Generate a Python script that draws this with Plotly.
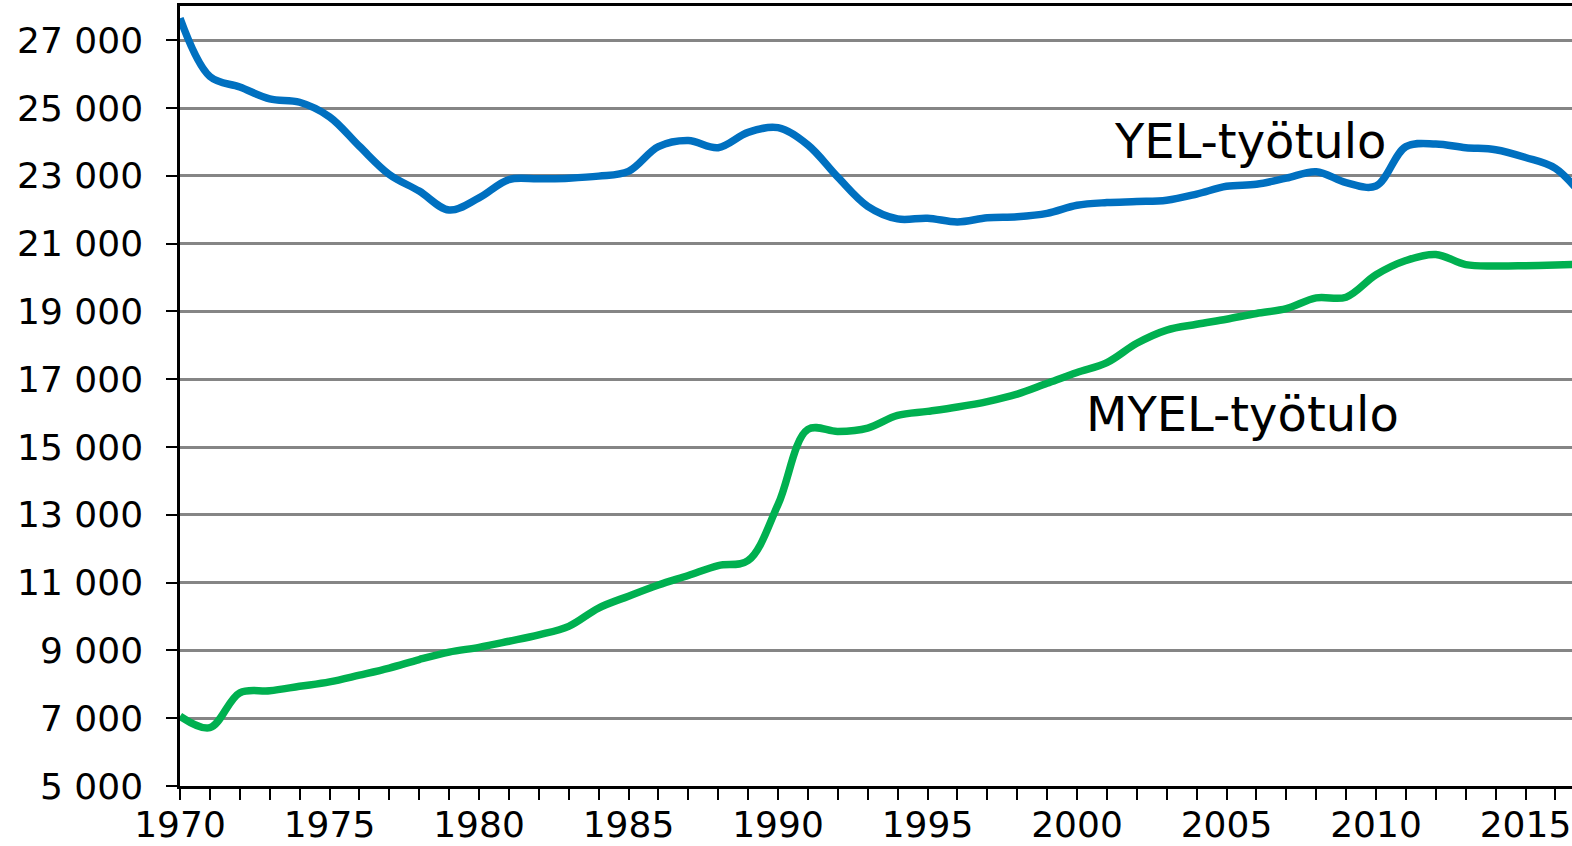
import plotly.graph_objects as go

years = list(range(1970, 2018))

yel = [27650, 25930, 25620, 25270, 25170, 24740, 23870, 23040, 22550, 21990,
       22350, 22890, 22910, 22930, 22990, 23130, 23860, 24040, 23830, 24280,
       24420, 23910, 22960, 22100, 21730, 21750, 21640, 21760, 21790, 21890,
       22130, 22210, 22240, 22280, 22460, 22690, 22750, 22930, 23120, 22800,
       22700, 23860, 23940, 23830, 23770, 23540, 23220, 22300]

myel = [7060, 6720, 7750, 7810, 7940, 8070, 8270, 8480, 8730, 8950,
        9090, 9270, 9460, 9710, 10250, 10600, 10930, 11210, 11500, 11650,
        13300, 15520, 15460, 15560, 15930, 16050, 16180, 16340, 16560, 16880,
        17200, 17490, 18060, 18450, 18620, 18770, 18940, 19080, 19400, 19420,
        20080, 20500, 20680, 20380, 20340, 20350, 20370, 20400]

y_ticks = [5000, 7000, 9000, 11000, 13000, 15000, 17000, 19000, 21000, 23000, 25000, 27000]
y_labels = ["5 000", "7 000", "9 000", "11 000", "13 000", "15 000", "17 000",
            "19 000", "21 000", "23 000", "25 000", "27 000"]
x_ticks = [1970, 1975, 1980, 1985, 1990, 1995, 2000, 2005, 2010, 2015]

FONT = "DejaVu Sans, Verdana, sans-serif"

fig = go.Figure()
fig.add_trace(go.Scatter(x=years, y=yel, mode="lines", name="YEL-työtulo",
                         line=dict(color="#0070C0", width=7.5, shape="spline", smoothing=1.0)))
fig.add_trace(go.Scatter(x=years, y=myel, mode="lines", name="MYEL-työtulo",
                         line=dict(color="#00B050", width=7.5, shape="spline", smoothing=1.0)))

fig.add_annotation(x=2005.79, y=24020, text="YEL-työtulo", showarrow=False,
                   font=dict(family=FONT, size=48, color="black"),
                   xanchor="center", yanchor="middle")
fig.add_annotation(x=2005.55, y=15970, text="MYEL-työtulo", showarrow=False,
                   font=dict(family=FONT, size=48, color="black"),
                   xanchor="center", yanchor="middle")

fig.update_layout(
    width=1572, height=846,
    margin=dict(l=180, r=0, t=6, b=60, pad=0),
    paper_bgcolor="white", plot_bgcolor="white",
    showlegend=False,
    font=dict(family=FONT, size=36, color="black"),
)
fig.update_xaxes(
    range=[1970, 2016.555], tickvals=x_ticks, ticktext=[str(v) for v in x_ticks],
    automargin=False,
    showgrid=False, zeroline=False,
    showline=True, linecolor="black", linewidth=2.5, mirror=True,
    ticks="outside", ticklen=11, tickwidth=1.5, tickcolor="black",
    minor=dict(dtick=1, tick0=1970, ticks="outside", ticklen=11, tickwidth=1.5, tickcolor="black", showgrid=False),
    tickfont=dict(family=FONT, size=36, color="black"),
    ticklabelstandoff=-6,
)
fig.update_yaxes(
    range=[5000, 28009], tickvals=y_ticks, ticktext=y_labels,
    automargin=False,
    showgrid=True, gridcolor="#858585", gridwidth=2.5, zeroline=False,
    showline=True, linecolor="black", linewidth=2.5,
    ticks="outside", ticklen=11, tickwidth=1.5, tickcolor="black",
    tickfont=dict(family=FONT, size=36, color="black"),
    ticklabelstandoff=16,
)

fig.write_html("out.html", config={"displayModeBar": False},
               post_script="document.body.style.margin='0';document.body.style.overflow='hidden';")
